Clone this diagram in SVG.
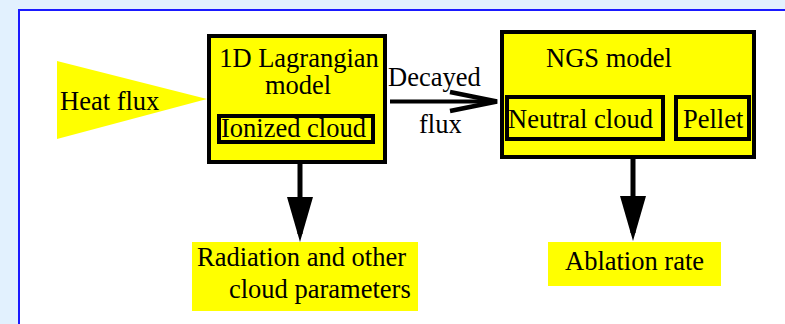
<svg xmlns="http://www.w3.org/2000/svg" width="785" height="324" viewBox="0 0 785 324">
<style>
  text { font-family: "Liberation Serif", "Times New Roman", serif; font-size: 26.5px; fill: #000; }
  .box { fill: #ffff00; stroke: #000; stroke-width: 4; }
  .inner { fill: #ffff00; stroke: #000; stroke-width: 4; }
  .label { fill: #ffff00; stroke: none; }
  .conn { stroke: #000; fill: none; }
</style>
<defs>
  <marker id="filled" markerUnits="userSpaceOnUse" viewBox="0 0 45 26" refX="37" refY="13" markerWidth="45" markerHeight="26" orient="auto" overflow="visible">
    <path d="M0,0 L45,13 L0,26 Z" fill="#000"/>
  </marker>
  <marker id="open" markerUnits="userSpaceOnUse" viewBox="0 0 50 22" refX="47" refY="11" markerWidth="50" markerHeight="22" orient="auto" overflow="visible">
    <path d="M0,1.5 L47,11 L0,20.5" fill="none" stroke="#000" stroke-width="4.5"/>
  </marker>
</defs>
<rect x="0" y="0" width="785" height="324" fill="#e2f1fe"/>
<rect x="19" y="10" width="800" height="330" fill="#ffffff" stroke="#1a1aff" stroke-width="2"/>

<g id="heat-flux">
  <polygon points="57,61 207,99 57,139" fill="#ffff00"/>
  <text x="60" y="110">Heat flux</text>
</g>

<g id="lagrangian-model">
  <rect class="box" x="209" y="36" width="176" height="126"/>
  <text x="299" y="67" text-anchor="middle">1D Lagrangian</text>
  <text x="298" y="94" text-anchor="middle">model</text>
  <g id="ionized-cloud">
    <rect class="inner" x="219" y="116" width="154" height="26"/>
    <text x="221" y="137">Ionized cloud</text>
  </g>
</g>

<g id="ngs-model">
  <rect class="box" x="502" y="32" width="252" height="125"/>
  <text x="546" y="67">NGS model</text>
  <g id="neutral-cloud">
    <rect class="inner" x="507" y="97" width="156" height="42"/>
    <text x="508" y="128">Neutral cloud</text>
  </g>
  <g id="pellet">
    <rect class="inner" x="676" y="97" width="73" height="42"/>
    <text x="683" y="128">Pellet</text>
  </g>
</g>

<g id="radiation">
  <rect class="label" x="192" y="242" width="226" height="69"/>
  <text x="197" y="266">Radiation and other</text>
  <text x="229" y="298">cloud parameters</text>
</g>

<g id="ablation-rate">
  <rect class="label" x="548" y="242" width="173" height="44"/>
  <text x="565" y="270">Ablation rate</text>
</g>

<g id="connectors">
  <line class="conn" x1="390" y1="101.5" x2="497" y2="101.5" stroke-width="4" marker-end="url(#open)"/>
  <text x="388" y="86">Decayed</text>
  <text x="419" y="133">flux</text>
  <line class="conn" x1="300" y1="164" x2="300" y2="234" stroke-width="5" marker-end="url(#filled)"/>
  <line class="conn" x1="633" y1="159" x2="633" y2="233" stroke-width="5" marker-end="url(#filled)"/>
</g>
</svg>
